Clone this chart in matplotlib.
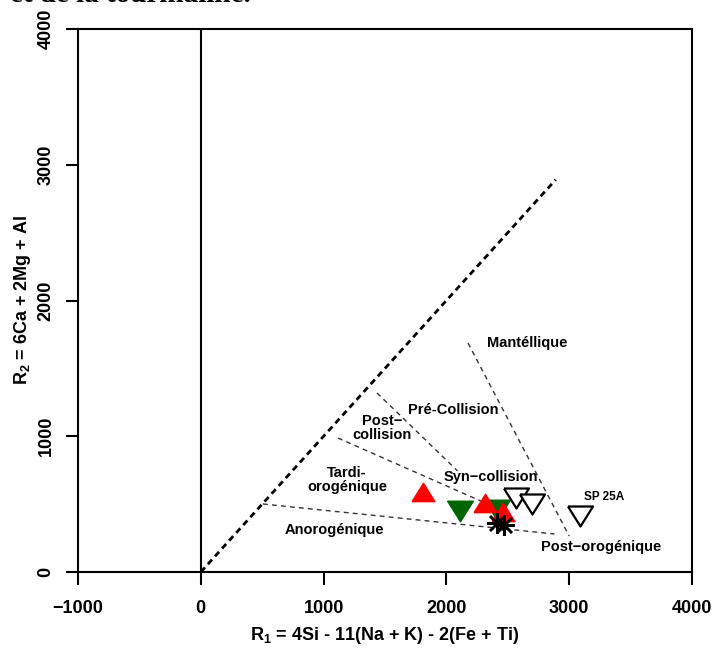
import matplotlib
matplotlib.use('Agg')
import matplotlib.pyplot as plt

# ---------------- data ----------------
x_ticks = [-1000, 0, 1000, 2000, 3000, 4000]
y_ticks = [0, 1000, 2000, 3000, 4000]

# diagram boundaries (Batchelor & Bowden fields)
diag_x = [0, 2890]
diag_y = [0, 2890]
anorog_x = [506, 2880]
anorog_y = [501, 280]
mantle_x = [2176, 3000]
mantle_y = [1687, 265]
precoll_x = [1435, 2090]
precoll_y = [1319, 745]
tardi_x = [1117, 2400]
tardi_y = [987, 475]

# samples
red_x = [1809, 2314, 2461]
red_y = [589, 508, 442]
green_x = [2111, 2412]
green_y = [450, 455]
open_x = [2567, 2697, 3088]
open_y = [545, 501, 412]
star_x = [2410, 2465]
star_y = [362, 346]

field_labels = ['Mantéllique', 'Pré-Collision', 'Post\u2212\ncollision',
                'Tardi-\norogénique', 'Syn\u2212collision', 'Anorogénique',
                'Post\u2212orogénique']
field_x = [2656, 2054, 1476, 1191, 2363, 1085, 3259]
field_y = [1687, 1193, 1061, 678, 700, 309, 184]

sample_label = 'SP 25A'
sample_label_xy = (3283, 552)

# ---------------- style ----------------
plt.rcParams['font.family'] = ['Liberation Sans', 'DejaVu Sans']
plt.rcParams['font.weight'] = 'bold'
plt.rcParams['mathtext.fontset'] = 'custom'
plt.rcParams['mathtext.rm'] = 'Liberation Sans:bold'
plt.rcParams['mathtext.bf'] = 'Liberation Sans:bold'
plt.rcParams['mathtext.it'] = 'Liberation Sans:bold'
plt.rcParams['axes.unicode_minus'] = True

fig = plt.figure(figsize=(7.16, 6.48), dpi=100)
ax = fig.add_axes([78 / 716, 1 - 572 / 648, 614 / 716, 543 / 648])

ax.set_xlim(-1000, 4000)
ax.set_ylim(0, 4000)

for s in ax.spines.values():
    s.set_linewidth(1.5)
    s.set_color('black')

ax.set_xticks(x_ticks)
ax.set_yticks(y_ticks)
ax.tick_params(axis='both', length=9, width=1.5, direction='out', labelsize=13)
ax.tick_params(axis='x', pad=11)
ax.tick_params(axis='y', pad=8)
for lab in ax.get_yticklabels():
    lab.set_rotation(90)
    lab.set_va('center')

# axis labels
ax.set_xlabel(r'$\mathbf{R}_{\mathbf{1}}$ = 4Si - 11(Na + K) - 2(Fe + Ti)',
              fontsize=13, fontweight='bold')
ax.xaxis.set_label_coords(0.5, (572 - 636) / 543)
ax.xaxis.label.set_va('center')
ax.set_ylabel(r'$\mathbf{R}_{\mathbf{2}}$ = 6Ca + 2Mg + Al',
              fontsize=13, fontweight='bold')
ax.yaxis.set_label_coords((23 - 78) / 614, 0.5)
ax.yaxis.label.set_va('center')

# vertical line at x = 0
ax.axvline(0, color='black', lw=1.5, zorder=1)

# boundaries
ax.plot(diag_x, diag_y, color='black', lw=2.0, linestyle=(0, (2.2, 1.6)), zorder=2)
thin = dict(color='#333333', lw=1.0, linestyle=(0, (3.5, 3.0)), zorder=2)
ax.plot(anorog_x, anorog_y, **thin)
ax.plot(mantle_x, mantle_y, **thin)
ax.plot(precoll_x, precoll_y, **thin)
ax.plot(tardi_x, tardi_y, **thin)

# field labels
for t, x, y in zip(field_labels, field_x, field_y):
    ax.text(x, y, t, ha='center', va='center', fontsize=10.5,
            fontweight='bold', linespacing=1.05, zorder=3)

# markers (closed triangles)
down_tri = [(-1, 0.8), (1, 0.8), (0, -0.8), (-1, 0.8)]
up_tri = [(-1, -0.8), (1, -0.8), (0, 0.8), (-1, -0.8)]
ax.plot(green_x, green_y, linestyle='none', marker=down_tri, markersize=18.5,
        markerfacecolor='#006400', markeredgecolor='#006400', zorder=4)
ax.plot(red_x, red_y, linestyle='none', marker=up_tri, markersize=16.5,
        markerfacecolor='#ff0000', markeredgecolor='#ff0000', zorder=5)
ax.plot(open_x, open_y, linestyle='none', marker=down_tri, markersize=18,
        markerfacecolor='white', markeredgecolor='black', markeredgewidth=1.6,
        zorder=5)
ax.plot(star_x, star_y, linestyle='none', marker=(8, 2, 0), markersize=15,
        markeredgecolor='black', markeredgewidth=1.8, zorder=6)

ax.text(sample_label_xy[0], sample_label_xy[1], sample_label, ha='center',
        va='center', fontsize=8.5, fontweight='bold', zorder=6)

# cut-off caption at the top of the page (only its lower edge is visible)
fig.text(10 / 716, 1 - 2 / 648, 'et de la tourmaline.', ha='left', va='baseline',
         fontsize=21, fontweight='bold',
         family=['Liberation Serif', 'DejaVu Serif'])

fig.savefig('out.png', dpi=100)
